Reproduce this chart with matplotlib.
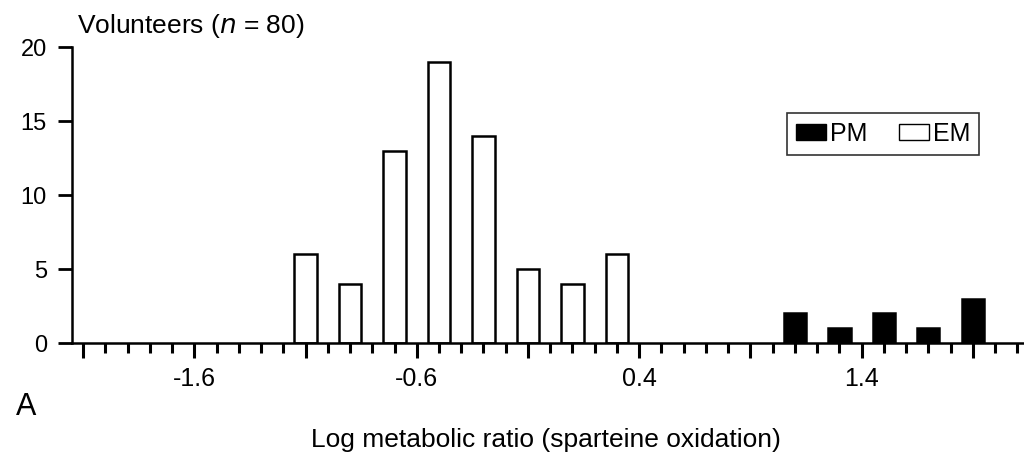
import numpy as np
import matplotlib.pyplot as plt
from matplotlib.patches import Patch

plt.rcParams['font.family'] = ['Liberation Sans', 'DejaVu Sans']

# Log metabolic ratio bins (centres) and number of volunteers per bin
em_centres = [-1.1, -0.9, -0.7, -0.5, -0.3, -0.1, 0.1, 0.3]
em_counts = [6, 4, 13, 19, 14, 5, 4, 6]
pm_centres = [1.1, 1.3, 1.5, 1.7, 1.9]
pm_counts = [2, 1, 2, 1, 3]

x_labelled = [-1.6, -0.6, 0.4, 1.4]
y_ticks = [0, 5, 10, 15, 20]

fig = plt.figure(figsize=(10.24, 4.58), dpi=100)
ax = fig.add_axes([72 / 1024, 1 - 343 / 458, 952 / 1024, 296 / 458])

ax.bar(em_centres, em_counts, width=0.1, color='white', edgecolor='black', linewidth=1.8)
ax.bar(pm_centres, pm_counts, width=0.1, color='black', edgecolor='black', linewidth=1.8)

ax.set_xlim(-2.15, 2.13)
ax.set_ylim(0, 20)

for side in ['top', 'right']:
    ax.spines[side].set_visible(False)
for side in ['left', 'bottom']:
    ax.spines[side].set_linewidth(1.8)

# long ticks every 0.5, short ticks every 0.1, only four of them labelled
majors = np.round(np.arange(-2.1, 2.0, 0.5), 1)
minors = np.round(np.arange(-2.1, 2.11, 0.1), 1)
ax.set_xticks(majors)
ax.set_xticklabels([f'{v:.1f}' if v in x_labelled else '' for v in majors])
ax.set_xticks(minors, minor=True)
ax.tick_params(axis='x', which='major', direction='out', length=11, width=2.2, pad=6, labelsize=18)
ax.tick_params(axis='x', which='minor', direction='out', length=7, width=2.2)

ax.set_yticks(y_ticks)
ax.tick_params(axis='y', direction='out', length=10, width=2.0, pad=8, labelsize=17)

fig.text(77 / 1024, 1 - 33 / 458, 'Volunteers ($\\it{n}$ = 80)', fontsize=19,
         ha='left', va='baseline')
fig.text(546 / 1024, 1 - 440 / 458, 'Log metabolic ratio (sparteine oxidation)',
         fontsize=19, ha='center', va='center')
fig.text(16 / 1024, 1 - 407 / 458, 'A', fontsize=22, ha='left', va='center')

handles = [Patch(facecolor='black', edgecolor='black', label='PM'),
           Patch(facecolor='white', edgecolor='black', label='EM')]
leg = ax.legend(handles=handles, loc='upper left', bbox_to_anchor=(715 / 952, (343 - 113) / 296),
                ncol=2, fontsize=18, frameon=True, fancybox=False, handlelength=1.2,
                handleheight=0.6, handletextpad=0.15, columnspacing=1.3, borderpad=0.35,
                borderaxespad=0)
leg.get_frame().set_edgecolor('black')
leg.get_frame().set_linewidth(1.2)

fig.savefig('out.png', dpi=100)
